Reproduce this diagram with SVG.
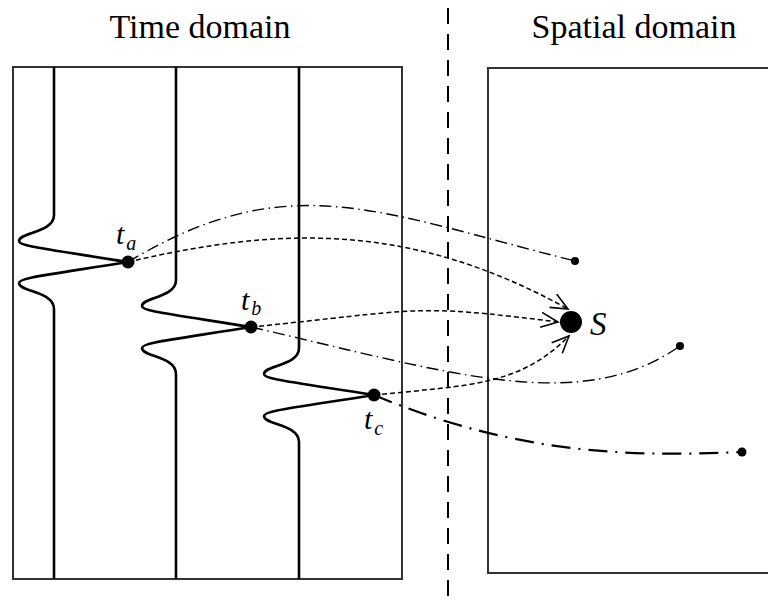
<svg xmlns="http://www.w3.org/2000/svg" width="768" height="604" viewBox="0 0 768 604">
<style>
.title{font-family:"Liberation Serif","DejaVu Serif","Times New Roman",serif;font-size:34px;fill:#000}
.lab{font-family:"Liberation Serif","DejaVu Serif","Times New Roman",serif;font-style:italic;fill:#000}
.box{fill:none;stroke:#333;stroke-width:2}
.trace{fill:none;stroke:#000;stroke-width:2.6;stroke-linejoin:round}
.dash{fill:none;stroke:#000;stroke-width:1.5;stroke-dasharray:5 3}
.dd{fill:none;stroke:#000;stroke-width:1.4;stroke-dasharray:12 4.5 1.5 4.5}
.ddk{fill:none;stroke:#000;stroke-width:2.2;stroke-dasharray:19 8 2 8}
.sep{fill:none;stroke:#000;stroke-width:2;stroke-dasharray:16 10}
</style>
<defs>
<marker id="open" markerUnits="userSpaceOnUse" markerWidth="24" markerHeight="20" refX="0" refY="0" viewBox="-20 -10 24 20" orient="auto">
<path d="M-17,-7.5 L0,0 L-17,7.5" fill="none" stroke="#000" stroke-width="1.6"/>
</marker>
</defs>

<text class="title" x="200" y="38" text-anchor="middle">Time domain</text>
<text class="title" x="634" y="38" text-anchor="middle">Spatial domain</text>

<line class="sep" x1="448" y1="8" x2="448" y2="604"/>

<g id="time-panel">
<rect class="box" x="13" y="67" width="389" height="512"/>
</g>
<g id="space-panel">
<rect class="box" x="488" y="68" width="300" height="505"/>
</g>

<g id="trace-1">
<path class="trace" d="M54,67 L54,215 C54,233 19,232 19,241 C19,246 40,248 128,262 C40,276 19,278 19,283 C19,292 54,291 54,309 L54,579"/>
</g>
<g id="trace-2">
<path class="trace" d="M176,67 L176,280 C176,298 142,297 142,306 C142,311 163,313 251,327 C163,341 142,343 142,348 C142,357 176,356 176,374 L176,579"/>
</g>
<g id="trace-3">
<path class="trace" d="M299,67 L299,348 C299,366 264,365 264,374 C264,379 285,381 374,395 C285,409 264,411 264,416 C264,425 299,424 299,442 L299,579"/>
</g>

<g id="connectors">
<path class="dd" d="M128,262 C288,166 375,211 575,261"/>
<path class="dash" d="M128,262 C278,227 409,221 568,309" marker-end="url(#open)"/>
<path class="dash" d="M251,327 C421,310 408,303 558,322" marker-end="url(#open)"/>
<path class="dash" d="M374,395 C474,385 520,385 569,336" marker-end="url(#open)"/>
<path class="dd" d="M251,327 C451,373 580,416 680,346"/>
<path class="ddk" d="M374,395 C524,458 642,456 742,452"/>
</g>

<g id="ta">
<circle cx="128" cy="262" r="6.5"/>
<text class="lab" x="116" y="244" font-size="30">t<tspan dx="2" dy="6" font-size="20">a</tspan></text>
</g>
<g id="tb">
<circle cx="251" cy="327" r="6.5"/>
<text class="lab" x="241" y="310" font-size="30">t<tspan dx="2" dy="5" font-size="20">b</tspan></text>
</g>
<g id="tc">
<circle cx="374" cy="395" r="6.5"/>
<text class="lab" x="364" y="429" font-size="30">t<tspan dx="2" dy="6" font-size="20">c</tspan></text>
</g>
<g id="S">
<circle cx="571" cy="322" r="11"/>
<text class="lab" x="590" y="335" font-size="33">S</text>
</g>
<g id="end-a"><circle cx="575" cy="261" r="4"/></g>
<g id="end-b"><circle cx="680" cy="346" r="4"/></g>
<g id="end-c"><circle cx="742" cy="452" r="4.5"/></g>
</svg>
